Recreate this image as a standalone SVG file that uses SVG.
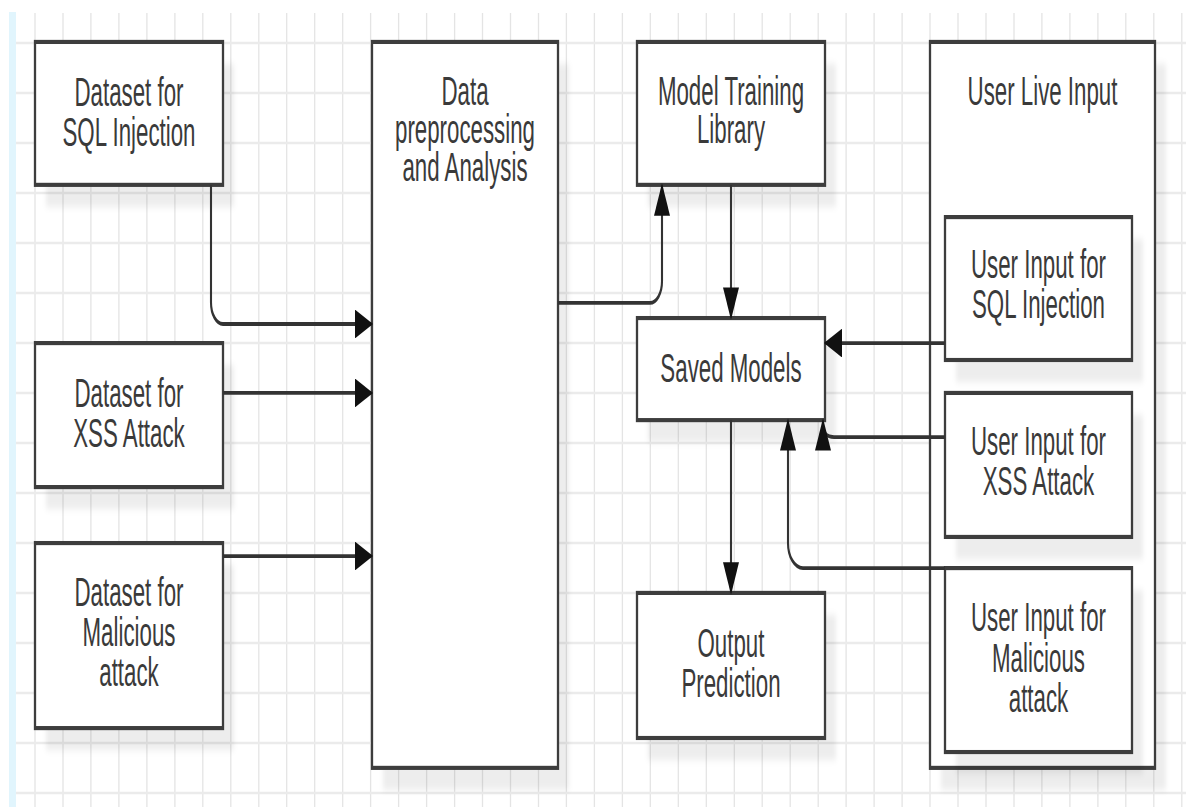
<svg xmlns="http://www.w3.org/2000/svg" width="1186" height="807" viewBox="0 0 1186 807">
  <defs>
    <style>
      .grid-v { fill: none; stroke: #e4e4e4; stroke-width: 1.3; }
      .grid-h { fill: none; stroke: #ebebeb; stroke-width: 2.4; }
      .box { fill: #ffffff; stroke: #3d3d3d; stroke-width: 2.3; }
      .shadow { fill: #000000; fill-opacity: 0.07; filter: url(#soft); }
      .label { font-family: "Liberation Sans", Arial, Helvetica, sans-serif; font-size: 22.3px; fill: #3a3a3a; text-anchor: middle; }
      .link { fill: none; stroke: #333333; stroke-width: 2.1; marker-end: url(#arrow); }
    </style>
    <filter id="soft" x="-10%" y="-10%" width="120%" height="120%">
      <feGaussianBlur stdDeviation="2"/>
    </filter>
    <marker id="arrow" markerUnits="userSpaceOnUse" viewBox="0 0 18 16" refX="17" refY="8" markerWidth="18" markerHeight="16" orient="auto">
      <path d="M0,0 L18,8 L0,16 Z" fill="#111111"/>
    </marker>
  </defs>

  <!-- canvas -->
  <rect x="0" y="0" width="1186" height="807" fill="#ffffff"/>
  <rect x="9" y="12" width="7" height="795" fill="#e1f5fd"/>

  <!-- background grid -->
  <path class="grid-v" d="M35 13V807M63 13V807M90.9 13V807M118.9 13V807M146.9 13V807M174.9 13V807M202.8 13V807M230.8 13V807M258.8 13V807M286.7 13V807M314.7 13V807M342.7 13V807M370.6 13V807M398.6 13V807M426.6 13V807M454.6 13V807M482.5 13V807M510.5 13V807M538.5 13V807M566.4 13V807M594.4 13V807M622.4 13V807M650.3 13V807M678.3 13V807M706.3 13V807M734.3 13V807M762.2 13V807M790.2 13V807M818.2 13V807M846.1 13V807M874.1 13V807M902.1 13V807M930 13V807M958 13V807M986 13V807M1014 13V807M1041.9 13V807M1069.9 13V807M1097.9 13V807M1125.8 13V807M1153.8 13V807M1181.8 13V807"/>
  <path class="grid-h" d="M16 43H1186M16 93H1186M16 143H1186M16 193H1186M16 243H1186M16 293H1186M16 343H1186M16 393H1186M16 443H1186M16 493H1186M16 543H1186M16 593H1186M16 643H1186M16 693H1186M16 743H1186M16 793H1186"/>

  <!-- nodes (drawn in a vertically stretched frame) -->
  <g id="nodes" transform="scale(1 1.8)">
    <g id="dataset-sql">
      <rect class="shadow" x="46" y="35.5" width="188" height="79.4"/>
      <rect class="box" x="35" y="23.3" width="188" height="79.4"/>
      <text class="label" x="129" y="58.9">Dataset for</text>
      <text class="label" x="129" y="81.1">SQL Injection</text>
    </g>
    <g id="dataset-xss">
      <rect class="shadow" x="46" y="202.8" width="188" height="80"/>
      <rect class="box" x="35" y="190.6" width="188" height="80"/>
      <text class="label" x="129" y="226.1">Dataset for</text>
      <text class="label" x="129" y="248.3">XSS Attack</text>
    </g>
    <g id="dataset-malicious">
      <rect class="shadow" x="46" y="313.9" width="188" height="102.8"/>
      <rect class="box" x="35" y="301.7" width="188" height="102.8"/>
      <text class="label" x="129" y="336.7">Dataset for</text>
      <text class="label" x="129" y="358.9">Malicious</text>
      <text class="label" x="129" y="381.1">attack</text>
    </g>
    <g id="preprocessing">
      <rect class="shadow" x="383" y="35.5" width="186" height="403.3"/>
      <rect class="box" x="372" y="23.3" width="186" height="403.3"/>
      <text class="label" x="465" y="58.3">Data</text>
      <text class="label" x="465" y="79.4">preprocessing</text>
      <text class="label" x="465" y="100.6">and Analysis</text>
    </g>
    <g id="model-training">
      <rect class="shadow" x="648" y="35.5" width="188" height="79.4"/>
      <rect class="box" x="637" y="23.3" width="188" height="79.4"/>
      <text class="label" x="731" y="58.3">Model Training</text>
      <text class="label" x="731" y="79.4">Library</text>
    </g>
    <g id="saved-models">
      <rect class="shadow" x="648" y="188.9" width="188" height="56.7"/>
      <rect class="box" x="637" y="176.7" width="188" height="56.7"/>
      <text class="label" x="731" y="212.2">Saved Models</text>
    </g>
    <g id="output-prediction">
      <rect class="shadow" x="648" y="341.6" width="188" height="80.6"/>
      <rect class="box" x="637" y="329.4" width="188" height="80.6"/>
      <text class="label" x="731" y="365">Output</text>
      <text class="label" x="731" y="387.2">Prediction</text>
    </g>
    <g id="user-live-input">
      <rect class="shadow" x="941" y="35.5" width="225" height="403.3"/>
      <rect class="box" x="930" y="23.3" width="225" height="403.3"/>
      <text class="label" x="1042.5" y="58.3">User Live Input</text>
    </g>
    <g id="user-sql">
      <rect class="shadow" x="956" y="132.8" width="187" height="79.4"/>
      <rect class="box" x="945" y="120.6" width="187" height="79.4"/>
      <text class="label" x="1038.5" y="154.4">User Input for</text>
      <text class="label" x="1038.5" y="176.7">SQL Injection</text>
    </g>
    <g id="user-xss">
      <rect class="shadow" x="956" y="230.5" width="187" height="80"/>
      <rect class="box" x="945" y="218.3" width="187" height="80"/>
      <text class="label" x="1038.5" y="252.8">User Input for</text>
      <text class="label" x="1038.5" y="275">XSS Attack</text>
    </g>
    <g id="user-malicious">
      <rect class="shadow" x="956" y="327.8" width="187" height="102.2"/>
      <rect class="box" x="945" y="315.6" width="187" height="102.2"/>
      <text class="label" x="1038.5" y="350.6">User Input for</text>
      <text class="label" x="1038.5" y="373.3">Malicious</text>
      <text class="label" x="1038.5" y="395.6">attack</text>
    </g>
  </g>

  <!-- connectors -->
  <g id="connectors" transform="scale(1 1.8)">
    <path class="link" d="M211 102.8V168A12 12 0 0 0 223 180H372"/>
    <path class="link" d="M223 218.3H372"/>
    <path class="link" d="M223 308.9H372"/>
    <path class="link" d="M558 168.3H650A12 12 0 0 0 662 156.3V102.8"/>
    <path class="link" d="M731 102.8V176.7"/>
    <path class="link" d="M945 190.6H825"/>
    <path class="link" d="M945 242.8H834Q823 242.8 823 236V233.3"/>
    <path class="link" d="M945 315.6H803A15 14 0 0 1 788 301.6V233.3"/>
    <path class="link" d="M731 233.3V329.4"/>
  </g>
</svg>
